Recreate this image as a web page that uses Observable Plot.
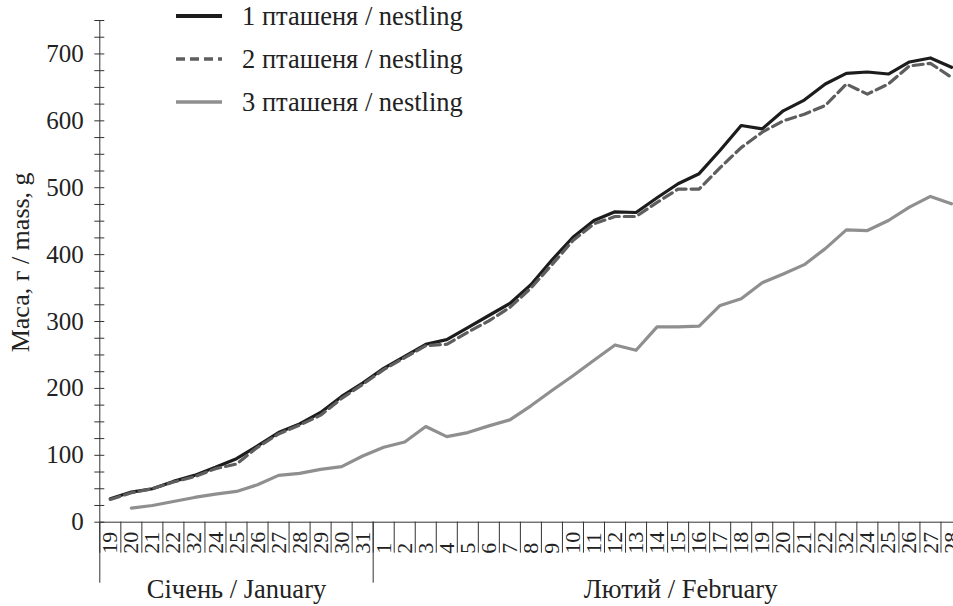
<!DOCTYPE html>
<html>
<head>
<meta charset="utf-8">
<script src="https://cdn.jsdelivr.net/npm/d3@7"></script>
<script src="https://cdn.jsdelivr.net/npm/@observablehq/plot@0.6"></script>
<style>
  html, body { margin: 0; padding: 0; overflow: hidden; background: #fff; }
  #wrap { position: relative; width: 953px; height: 606px; overflow: hidden; font-family: "Liberation Serif", "DejaVu Serif", serif; }
  #wrap svg, #wrap text { font-family: "Liberation Serif", "DejaVu Serif", serif; }
  #legend { position: absolute; left: 0; top: 0; }
</style>
</head>
<body>
<div id="wrap"></div>
<script>
// ---- data ----
const dayLabels = ["19","20","21","22","32","24","25","26","27","28","29","30","31",
  "1","2","3","4","5","6","7","8","9","10","11","12","13","14","15","16","17","18","19","20","21","22","32","24","25","26","27","28"];

const nestling1 = [35,45,50,61,70,82,95,114,134,147,164,188,208,
  230,248,266,273,291,309,327,355,392,426,451,464,463,485,506,521,556,593,588,615,631,655,671,673,670,688,694,680];
const nestling2 = [34,44,50,60,68,80,87,112,132,145,160,185,206,
  228,246,264,266,284,301,321,350,385,421,446,457,457,478,498,498,530,560,583,600,610,623,655,640,655,682,686,665];
const nestling3 = [null,21,25,31,37,42,46,56,70,73,79,83,99,
  112,120,143,128,134,144,153,174,197,219,242,265,257,292,292,293,324,334,358,371,385,409,437,436,451,471,487,476];

const seriesNames = ["1 пташеня / nestling", "2 пташеня / nestling", "3 пташеня / nestling"];
const seriesValues = [nestling1, nestling2, nestling3];
const seriesColors = ["#1c1c1c", "#5e5e5e", "#8f8f8f"];
const seriesDash = [null, "10,5", null];

const months = [
  {label: "Січень / January", first: 0, last: 12},
  {label: "Лютий / February", first: 13, last: 40}
];
const yTitle = "Маса, г / mass, g";

// ---- build ----
const fontFamily = "Liberation Serif, DejaVu Serif, serif";
const boundaries = d3.range(0, dayLabels.length + 1).map(i => i - 0.5);
const separators = months.map(m => m.first - 0.5);
const rows = seriesValues.flatMap((vals, s) => vals.map((v, i) => ({s, i, v})));

const lineMarks = seriesValues.map((vals, s) =>
  Plot.line(rows.filter(r => r.s === s), {
    x: "i", y: "v",
    stroke: seriesColors[s], strokeWidth: 3.2,
    strokeDasharray: seriesDash[s] ?? undefined,
    strokeLinejoin: "round"
  })
);

const chart = Plot.plot({
  width: 953, height: 606,
  marginLeft: 99.3, marginRight: 0, marginTop: 20, marginBottom: 84.3,
  style: {fontFamily, fontSize: "21px", color: "#222", background: "white"},
  x: {type: "linear", domain: [-0.5, dayLabels.length - 0.5], range: [99.3, 961.5]},
  y: {domain: [0, 750]},
  marks: [
    Plot.axisY({ticks: d3.range(0, 751, 25), tickSize: 10, dx: 5, text: null, label: null, stroke: "#333"}),
    Plot.axisY({ticks: d3.range(0, 701, 100), tickSize: 0, tickPadding: 16, fontSize: 25, label: null, tickFormat: d => String(d)}),
    Plot.ruleX([-0.5], {y1: 0, y2: 750, stroke: "#333"}),
    Plot.ruleY([0], {stroke: "#333"}),
    Plot.axisX({ticks: boundaries, tickSize: 31, text: null, label: null, stroke: "#333"}),
    Plot.axisX({ticks: separators, tickSize: 61, text: null, label: null, stroke: "#333"}),
    Plot.text(dayLabels, {x: (d, i) => i, text: d => d, frameAnchor: "bottom", dy: 31.5,
      rotate: -90, textAnchor: "start", lineAnchor: "middle", fontSize: 22, fill: "#222"}),
    Plot.text([months[0]], {x: m => (m.first + m.last) / 2, text: "label", frameAnchor: "bottom",
      dy: 75.3, lineAnchor: "bottom", fontSize: 26.5, fill: "#222"}),
    Plot.text([months[1]], {x: m => (m.first + m.last) / 2, text: "label", frameAnchor: "bottom",
      dy: 75.3, dx: 13, lineAnchor: "bottom", fontSize: 26.5, fill: "#222"}),
    Plot.text([yTitle], {text: d => d, frameAnchor: "left", dx: -79, dy: -9, rotate: -90,
      textAnchor: "middle", fontSize: 26, fill: "#222"}),
    ...lineMarks
  ]
});

const wrap = document.getElementById("wrap");
wrap.appendChild(chart);

// legend overlay
const legend = d3.select(wrap).append("svg")
  .attr("id", "legend").attr("width", 520).attr("height", 125)
  .attr("font-family", fontFamily);
const item = legend.selectAll("g").data(seriesNames).join("g")
  .attr("transform", (d, i) => `translate(0, ${16 + i * 43})`);
item.append("line")
  .attr("x1", 176).attr("x2", 222).attr("y1", 0).attr("y2", 0)
  .attr("stroke", (d, i) => seriesColors[i])
  .attr("stroke-width", (d, i) => i === 0 ? 3.8 : 3.4)
  .attr("stroke-dasharray", (d, i) => seriesDash[i] ? "9,5" : null);
item.append("text")
  .attr("x", 242).attr("y", 0).attr("dy", "0.33em")
  .attr("font-size", 26.5).attr("fill", "#222")
  .text(d => d);
</script>
</body>
</html>
